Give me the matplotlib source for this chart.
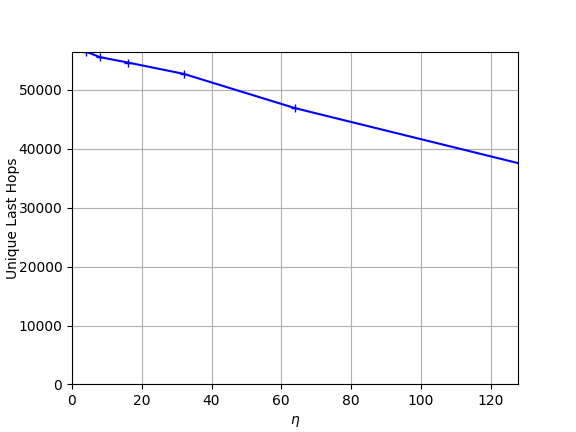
import matplotlib
matplotlib.use("Agg")
import matplotlib.pyplot as plt

# eta values and unique last hops
# (1, 2 and 256 fall outside the visible axes; estimated so the line exits where the reference's does)
eta = [1, 2, 4, 8, 16, 32, 64, 256]
hops = [59800, 58300, 56500, 55550, 54640, 52720, 46890, 18880]

fig, ax = plt.subplots(figsize=(5.76, 4.32), dpi=100)
ax.plot(eta, hops, color="blue", marker="+")
ax.set_xlim(0, 128)
ax.set_ylim(0, 56450)
ax.set_xlabel(r"$\eta$")
ax.set_ylabel("Unique Last Hops", labelpad=-1)
ax.grid(True)
fig.savefig("out.png", dpi=100)
